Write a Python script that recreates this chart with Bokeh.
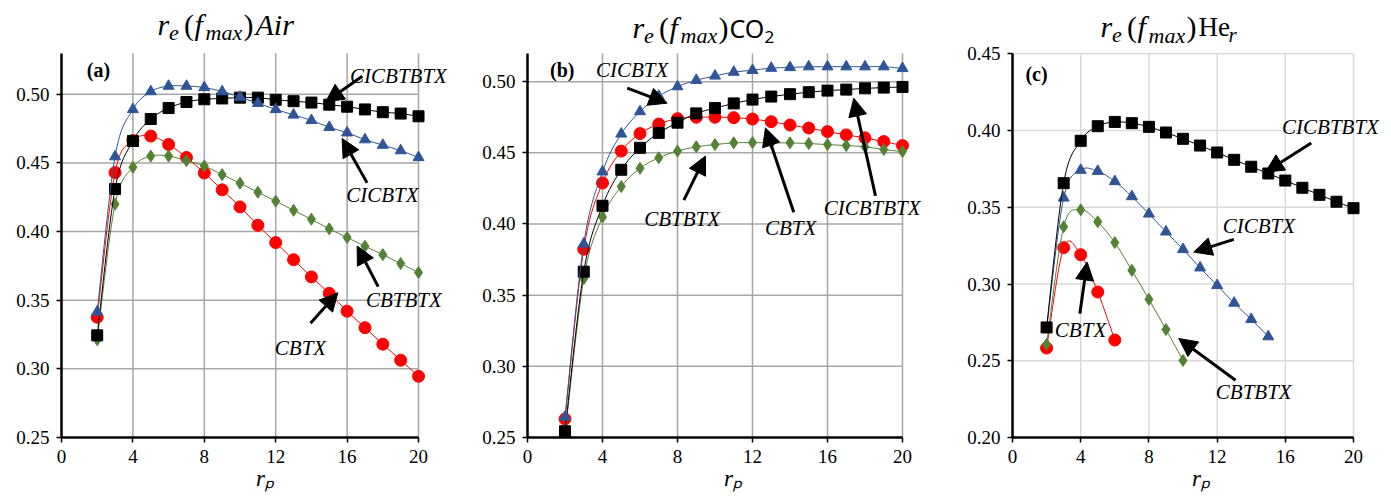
from bokeh.plotting import figure
from bokeh.layouts import row
from bokeh.models import Range1d, Label, Arrow, NormalHead, FixedTicker, NumeralTickFormatter, ColumnDataSource
from bokeh.embed import file_html
from bokeh.resources import INLINE

# ---------------- data ----------------
rp_full = list(range(2, 21))

# (a) Air
air_cicbtx = [0.3415, 0.4546, 0.489, 0.502, 0.506, 0.506, 0.505, 0.502, 0.498, 0.4935,
              0.489, 0.485, 0.481, 0.476, 0.472, 0.467, 0.463, 0.459, 0.454]
air_cicbtbtx = [0.3244, 0.431, 0.466, 0.482, 0.490, 0.4944, 0.4964, 0.497, 0.4976, 0.4976,
                0.496, 0.495, 0.494, 0.4925, 0.491, 0.489, 0.487, 0.486, 0.484]
air_cbtx = [0.3376, 0.443, 0.4664, 0.4696, 0.4635, 0.454, 0.4427, 0.4304, 0.418, 0.4046,
            0.392, 0.3795, 0.367, 0.355, 0.342, 0.330, 0.318, 0.3063, 0.2946]
air_cbtbtx = [0.3212, 0.420, 0.4469, 0.455, 0.455, 0.4517, 0.4478, 0.4415, 0.4353, 0.4287,
              0.4222, 0.4155, 0.409, 0.402, 0.3957, 0.3893, 0.3832, 0.3768, 0.3702]

# (b) CO2
co2_cicbtx = [0.2644, 0.386, 0.4367, 0.4633, 0.479, 0.4898, 0.4965, 0.501, 0.504, 0.5067,
              0.508, 0.5095, 0.510, 0.5105, 0.5105, 0.5105, 0.5105, 0.5105, 0.5093]
co2_cicbtbtx = [0.2544, 0.3665, 0.4128, 0.4381, 0.4535, 0.464, 0.4712, 0.4777, 0.4814, 0.4847,
                0.4874, 0.4895, 0.4912, 0.4926, 0.4937, 0.4944, 0.4953, 0.4958, 0.4963]
co2_cbtx = [0.263, 0.3823, 0.4288, 0.4512, 0.4635, 0.4702, 0.474, 0.475, 0.475, 0.4747,
            0.4737, 0.4719, 0.4695, 0.4674, 0.4649, 0.4626, 0.4605, 0.4579, 0.4551]
co2_cbtbtx = [0.2521, 0.3616, 0.4049, 0.4263, 0.4391, 0.4465, 0.4512, 0.4542, 0.4558, 0.457,
              0.4572, 0.457, 0.457, 0.4565, 0.4558, 0.4551, 0.4542, 0.4523, 0.4509]

# (c) He_r
he_rp_cicbtbtx = list(range(2, 21))
he_cicbtbtx = [0.2717, 0.3657, 0.3933, 0.4028, 0.4056, 0.4048, 0.4024, 0.3987, 0.3946, 0.3902,
               0.3857, 0.3809, 0.3764, 0.372, 0.3674, 0.3627, 0.3581, 0.3536, 0.3494]
he_rp_cicbtx = list(range(2, 16))
he_cicbtx = [0.2709, 0.3561, 0.3742, 0.3735, 0.3668, 0.357, 0.3457, 0.334, 0.3226, 0.3106,
             0.2991, 0.2876, 0.277, 0.2657]
he_rp_cbtbtx = list(range(2, 11))
he_cbtbtx = [0.2607, 0.3373, 0.3483, 0.3405, 0.327, 0.3089, 0.29, 0.2704, 0.2502]
he_rp_cbtx = list(range(2, 7))
he_cbtx = [0.2583, 0.3237, 0.3191, 0.2948, 0.2635]

x_ticks = [0, 4, 8, 12, 16, 20]
y_ticks_ab = [0.25, 0.30, 0.35, 0.40, 0.45, 0.50]
y_ticks_c = [0.20, 0.25, 0.30, 0.35, 0.40, 0.45]

# ---------------- styles ----------------
SERIF = "Liberation Serif"
SANS = "Noto Sans"
STY = {
    "CBTX": dict(color="#FF0000", marker="circle", size=12),
    "CBTBTX": dict(color="#548235", marker="diamond", size=12),
    "CICBTBTX": dict(color="#000000", marker="square", size=11),
    "CICBTX": dict(color="#2F5597", marker="triangle", size=11),
}

# title pieces: (text, font, style, size px, left offset px from title start, subscript?)
TITLE_COMMON = [("r", SERIF, "italic", 30, 0, False),
                ("e", SERIF, "italic", 22, 11.5, True),
                ("(", SERIF, "normal", 30, 26.5, False),
                ("f", SERIF, "italic", 30, 37, False),
                ("max", SERIF, "italic", 22, 48, True),
                (")", SERIF, "normal", 30, 86, False)]
TITLE_A = [("Air", SERIF, "italic", 30, 98, False)]
TITLE_B = [("CO", SANS, "normal", 25, 97, False), ("2", SANS, "normal", 17, 132, True)]
TITLE_C = [("He", SERIF, "normal", 27, 98, False), ("r", SERIF, "italic", 21, 128, True)]


def smooth_segments(xs, ys):
    n = len(xs)
    out = dict(x0=[], y0=[], x1=[], y1=[], cx0=[], cy0=[], cx1=[], cy1=[])
    for i in range(n - 1):
        a = i - 1 if i > 0 else i
        d = i + 2 if i + 2 < n else i + 1
        out["x0"].append(xs[i]); out["y0"].append(ys[i])
        out["x1"].append(xs[i + 1]); out["y1"].append(ys[i + 1])
        out["cx0"].append(xs[i] + (xs[i + 1] - xs[a]) / 6.0)
        out["cy0"].append(ys[i] + (ys[i + 1] - ys[a]) / 6.0)
        out["cx1"].append(xs[i + 1] - (xs[d] - xs[i]) / 6.0)
        out["cy1"].append(ys[i + 1] - (ys[d] - ys[i]) / 6.0)
    return out


def make_panel(width, ylo, ytop, y_ticks, x_end, y_end, border, grid_color, series,
               title_pieces, title_start_px, title_base_py, tag, tag_xy, notes):
    frame_h = 497 - 2 - border[1]
    frame_w = width - border[0] - 2
    pxu = frame_w / x_end
    pyu = frame_h / (y_end - ylo)

    def xpix(px):  # px measured from the left edge of this figure
        return (px - border[0]) / pxu

    def ypix(py):  # py measured from top of figure
        return y_end - (py - 2) / pyu

    p = figure(width=width, height=497, output_backend="svg", toolbar_location=None,
               x_range=Range1d(0, x_end), y_range=Range1d(ylo, y_end),
               min_border_left=border[0], min_border_right=2,
               min_border_top=2, min_border_bottom=border[1])
    p.outline_line_color = None
    p.background_fill_color = "white"
    p.border_fill_color = "white"
    p.xgrid.grid_line_color = None
    p.ygrid.grid_line_color = None

    vx = [t for t in x_ticks if t > 0]
    p.segment(x0=vx, y0=[ylo] * len(vx), x1=vx, y1=[ytop] * len(vx),
              line_color=grid_color, line_width=1.5)
    hy = [t for t in y_ticks if t > ylo]
    p.segment(x0=[0] * len(hy), y0=hy, x1=[20] * len(hy), y1=hy,
              line_color=grid_color, line_width=1.5)

    for ax in (p.xaxis[0], p.yaxis[0]):
        ax.axis_line_color = "black"
        ax.axis_line_width = 2.5
        ax.major_tick_line_color = "black"
        ax.major_tick_line_width = 1.5
        ax.major_tick_out = 5
        ax.major_tick_in = 0
        ax.minor_tick_line_color = None
        ax.major_label_text_font = SERIF
        ax.major_label_text_font_size = "19px"
        ax.major_label_text_color = "black"
    p.xaxis.bounds = (0, 20)
    p.yaxis.bounds = (ylo, ytop)
    p.xaxis.ticker = FixedTicker(ticks=x_ticks)
    p.yaxis.ticker = FixedTicker(ticks=y_ticks)
    p.yaxis.formatter = NumeralTickFormatter(format="0.00")
    p.yaxis.major_label_standoff = 7
    p.xaxis.major_label_standoff = 7
    p.xaxis.axis_label = "r\u209a"
    p.xaxis.axis_label_text_font = SERIF
    p.xaxis.axis_label_text_font_style = "italic"
    p.xaxis.axis_label_text_font_size = "23px"
    p.xaxis.axis_label_standoff = 0
    p.xaxis.axis_label_text_color = "black"

    for name, xs, ys in series:
        st = STY[name]
        seg = ColumnDataSource(smooth_segments(xs, ys))
        p.bezier(x0="x0", y0="y0", x1="x1", y1="y1", cx0="cx0", cy0="cy0", cx1="cx1", cy1="cy1",
                 source=seg, line_color=st["color"], line_width=1)
        p.scatter(xs, ys, marker=st["marker"], size=st["size"], fill_color=st["color"],
                  line_color=st["color"])

    # title, composed of pieces (subscripts smaller and lowered), vertically centred
    for txt, font, style, size, off, sub in title_pieces:
        k = 0.39 if font == SANS else 0.34
        base = title_base_py + (6 if sub else 0)
        p.add_layout(Label(x=xpix(title_start_px + off), y=ypix(base - k * size), text=txt,
                           text_align="left", text_baseline="middle", text_font=font,
                           text_font_style=style, text_font_size=f"{size}px",
                           text_color="black"))
    # panel tag
    p.add_layout(Label(x=tag_xy[0], y=tag_xy[1], text=tag, text_align="center",
                       text_baseline="middle", text_font=SERIF, text_font_style="bold",
                       text_font_size="20px", text_color="black"))
    # annotations
    for txt, tx, ty, xs_, ys_, xe, ye in notes:
        p.add_layout(Label(x=tx, y=ty, text=txt, text_align="center", text_baseline="middle",
                           text_font=SERIF, text_font_style="italic",
                           text_font_size="21px", text_color="black"))
        p.add_layout(Arrow(x_start=xs_, y_start=ys_, x_end=xe, y_end=ye, line_color="black",
                           line_width=3,
                           end=NormalHead(size=18, fill_color="black", line_color="black")))
    return p


pa = make_panel(
    470, 0.25, 0.53, y_ticks_ab, 22.8, 0.5669, (61, 59), "#A6A6A6",
    [("CBTX", rp_full, air_cbtx), ("CBTBTX", rp_full, air_cbtbtx),
     ("CICBTBTX", rp_full, air_cicbtbtx), ("CICBTX", rp_full, air_cicbtx)],
    TITLE_COMMON + TITLE_A, 157, 34,
    "(a)", (2.07, 0.5175),
    [("CICBTBTX", 18.88, 0.513, 16.85, 0.5131, 14.79, 0.4944),
     ("CICBTX", 17.98, 0.4265, 17.12, 0.4355, 15.72, 0.4678),
     ("CBTBTX", 19.18, 0.35, 17.74, 0.3599, 16.56, 0.3895),
     ("CBTX", 13.39, 0.315, 13.95, 0.3332, 15.48, 0.3555)])

pb = make_panel(
    470, 0.25, 0.52, y_ticks_ab, 21.92, 0.5556, (57, 57), "#A6A6A6",
    [("CBTX", rp_full, co2_cbtx), ("CBTBTX", rp_full, co2_cbtbtx),
     ("CICBTBTX", rp_full, co2_cicbtbtx), ("CICBTX", rp_full, co2_cicbtx)],
    TITLE_COMMON + TITLE_B, 632 - 470, 37,
    "(b)", (1.85, 0.508),
    [("CICBTX", 5.58, 0.508, 5.32, 0.4954, 7.45, 0.4849),
     ("CBTBTX", 8.25, 0.4036, 8.34, 0.4168, 9.49, 0.4477),
     ("CBTX", 14.03, 0.397, 14.2, 0.4082, 12.69, 0.4675),
     ("CICBTBTX", 18.38, 0.411, 18.56, 0.4198, 17.4, 0.4884)])

pc = make_panel(
    451, 0.20, 0.45, y_ticks_c, 22.11, 0.4834, (72, 60), "#D9D9D9",
    [("CBTX", he_rp_cbtx, he_cbtx), ("CBTBTX", he_rp_cbtbtx, he_cbtbtx),
     ("CICBTX", he_rp_cicbtx, he_cicbtx), ("CICBTBTX", he_rp_cicbtbtx, he_cicbtbtx)],
    TITLE_COMMON + TITLE_C, 1100 - 940, 36,
    "(c)", (1.41, 0.4365),
    [("CICBTBTX", 18.65, 0.4022, 17.52, 0.3918, 14.84, 0.3729),
     ("CICBTX", 14.45, 0.3376, 12.98, 0.3291, 10.63, 0.3208),
     ("CBTBTX", 14.15, 0.2297, 13.08, 0.2373, 9.75, 0.2645),
     ("CBTX", 3.99, 0.2699, 3.95, 0.2807, 4.38, 0.3143)])

layout = row(pa, pb, pc, spacing=0)
open("out.html", "w").write(file_html(layout, INLINE))
